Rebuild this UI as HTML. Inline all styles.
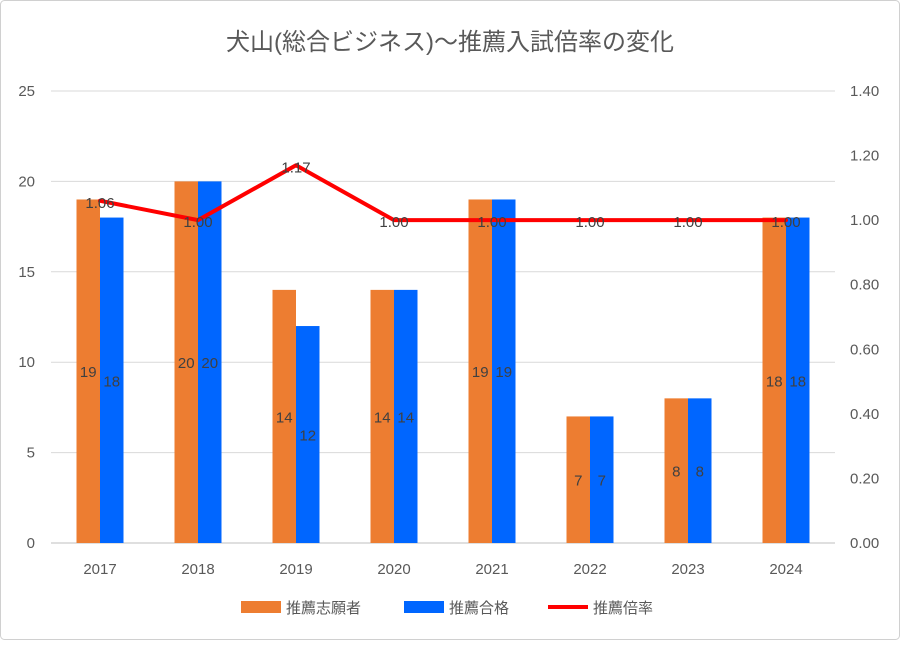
<!DOCTYPE html>
<html><head><meta charset="utf-8"><style>
html,body{margin:0;padding:0;background:#fff;}
svg text{font-family:"Liberation Sans","Noto Sans CJK JP",sans-serif;}
</style></head><body>
<svg id="chart" width="900" height="640" viewBox="0 0 900 640" xmlns="http://www.w3.org/2000/svg">
<rect x="0.5" y="0.5" width="899" height="639" fill="#fff" stroke="#d0d0d0" rx="4"/>
<text x="450" y="50" text-anchor="middle" font-size="24" fill="#595959">犬山(総合ビジネス)～推薦入試倍率の変化</text>
<g id="grid"></g><g id="bars"></g><g id="line"></g><g id="labels"></g><g id="axes"></g>
<g>
<rect x="241" y="601" width="40" height="12" fill="#ED7D31"/>
<text x="286" y="613" font-size="15" fill="#595959">推薦志願者</text>
<rect x="404" y="601" width="40" height="12" fill="#0066FF"/>
<text x="449" y="613" font-size="15" fill="#595959">推薦合格</text>
<line x1="548" y1="607" x2="588" y2="607" stroke="#FF0000" stroke-width="4"/>
<text x="593" y="613" font-size="15" fill="#595959">推薦倍率</text>
</g>
</svg>
<script>
const categories=["2017","2018","2019","2020","2021","2022","2023","2024"];
const applicants=[19,20,14,14,19,7,8,18];
const passed=[18,20,12,14,19,7,8,18];
const ratio=[1.06,1.00,1.17,1.00,1.00,1.00,1.00,1.00];
const leftTicks=[0,5,10,15,20,25];
const rightTicks=["0.00","0.20","0.40","0.60","0.80","1.00","1.20","1.40"];
const NS="http://www.w3.org/2000/svg";
const X0=51,X1=835,Y0=543,Y1=91,LMAX=25,RMAX=1.4;
const band=(X1-X0)/categories.length;
const xc=i=>X0+band*(i+0.5);
const yl=v=>Y0-(v/LMAX)*(Y0-Y1);
const yr=v=>Y0-(v/RMAX)*(Y0-Y1);
function mk(tag,attrs,parent,txt){const e=document.createElementNS(NS,tag);for(const k in attrs)e.setAttribute(k,attrs[k]);if(txt!==undefined)e.textContent=txt;document.getElementById(parent).appendChild(e);return e;}
leftTicks.forEach((t,i)=>{
  const g=mk("line",{x1:X0,x2:X1,y1:yl(t),y2:yl(t),stroke:i===0?"#bfbfbf":"#d9d9d9","stroke-width":1},"grid");
  
  
  const l=mk("text",{x:35,y:yl(t)+5,"text-anchor":"end","font-size":15,fill:"#595959"},"axes",String(t));
  
  
});
rightTicks.forEach(t=>{
  const l=mk("text",{x:850,y:yr(parseFloat(t))+5,"font-size":15,fill:"#595959"},"axes",t);
  
  
});
const bw=23.5;
categories.forEach((c,i)=>{
  const cx=xc(i);
  const l=mk("text",{x:cx,y:574,"text-anchor":"middle","font-size":15,fill:"#595959"},"axes",c);
  
  
  const a=mk("rect",{x:cx-bw,y:yl(applicants[i]),width:bw,height:Y0-yl(applicants[i]),fill:"#ED7D31"},"bars");
  
  
  const p=mk("rect",{x:cx,y:yl(passed[i]),width:bw,height:Y0-yl(passed[i]),fill:"#0066FF"},"bars");
  
  
  const al=mk("text",{x:cx-bw/2,y:(yl(applicants[i])+Y0)/2+6,"text-anchor":"middle","font-size":15,fill:"#404040"},"labels",String(applicants[i]));
  
  
  const pl=mk("text",{x:cx+bw/2,y:(yl(passed[i])+Y0)/2+6,"text-anchor":"middle","font-size":15,fill:"#404040"},"labels",String(passed[i]));
  
  
  const rl=mk("text",{x:cx,y:yr(ratio[i])+7,"text-anchor":"middle","font-size":15,fill:"#404040"},"labels",ratio[i].toFixed(2));
  
  
});
const pts=ratio.map((v,i)=>xc(i)+","+yr(v)).join(" ");
const pl=mk("polyline",{points:pts,fill:"none",stroke:"#FF0000","stroke-width":4,"stroke-linejoin":"round","stroke-linecap":"round"},"line");


</script>
</body></html>
